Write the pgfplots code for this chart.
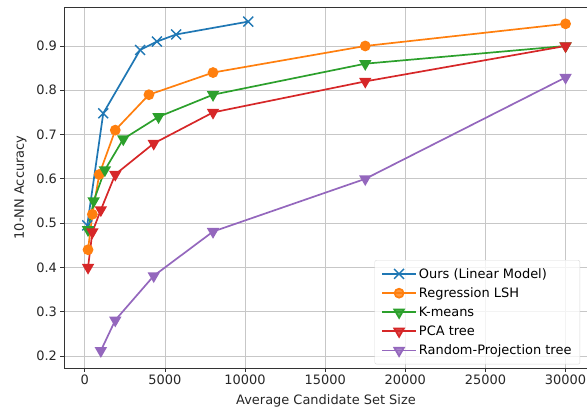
\documentclass[border=0pt]{standalone}
\usepackage{pgfplots}
\pgfplotsset{compat=1.18}
\usepackage{fontspec}
\setmainfont{DejaVu Sans}
\definecolor{tabblue}{HTML}{1F77B4}
\definecolor{taborange}{HTML}{FF7F0E}
\definecolor{tabgreen}{HTML}{2CA02C}
\definecolor{tabred}{HTML}{D62728}
\definecolor{tabpurple}{HTML}{9467BD}
\begin{document}
\begin{tikzpicture}
\begin{axis}[
  name=ax,
  scale only axis, width=524bp, height=361bp,
  xmin=-1300, xmax=31400, ymin=0.173, ymax=0.988,
  xtick={0,5000,10000,15000,20000,25000,30000},
  ytick={0.2,0.3,0.4,0.5,0.6,0.7,0.8,0.9},
  scaled x ticks=false,
  /pgf/number format/assume math mode=true,
  xticklabel style={/pgf/number format/1000 sep={}},
  yticklabel style={/pgf/number format/fixed, /pgf/number format/precision=1, /pgf/number format/fixed zerofill},
  ticklabel style={font=\fontsize{13}{15}\selectfont, text=black!85},
  label style={font=\fontsize{13}{15}\selectfont, text=black!85},
  xlabel={Average Candidate Set Size},
  ylabel={10-NN Accuracy},
  xlabel style={yshift=-3bp},
  ylabel style={yshift=3bp},
  tick align=outside, xtick pos=lower, ytick pos=left,
  major tick length=3.5bp,
  tick style={black!80, line width=0.8bp},
  grid=major, grid style={color=black!22, line width=0.9bp},
  axis line style={black!80, line width=0.8bp},
  every axis plot/.append style={line width=1.7bp},
  legend style={at={(0.985,0.01)}, anchor=south east, draw=black!15, rounded corners=2bp,
    fill=white, fill opacity=0.8, text opacity=1, font=\fontsize{13}{15}\selectfont,
    row sep=4bp, inner xsep=6.5bp, inner ysep=6bp},
  legend cell align=left,
  legend image code/.code={\draw[mark repeat=2,mark phase=2] plot coordinates {(0bp,0bp) (17bp,0bp) (34bp,0bp)};},
]
\addplot[color=tabblue, mark=x, mark size=7bp, mark options={line width=1.4bp}] coordinates {
 (150,0.495) (1150,0.748) (3450,0.891) (4500,0.910) (5700,0.926) (10200,0.955)};
\addlegendentry{Ours (Linear Model)}
\addplot[color=taborange, mark=*, mark size=4.5bp] coordinates {
 (200,0.44) (470,0.52) (900,0.61) (1900,0.71) (4000,0.79) (8000,0.84) (17500,0.90) (30000,0.95)};
\addlegendentry{Regression LSH}
\addplot[color=tabgreen, mark=triangle*, mark size=5.5bp, mark options={rotate=180}] coordinates {
 (200,0.485) (550,0.55) (1250,0.62) (2400,0.69) (4600,0.74) (8000,0.79) (17500,0.86) (30000,0.90)};
\addlegendentry{K-means}
\addplot[color=tabred, mark=triangle*, mark size=5.5bp, mark options={rotate=180}] coordinates {
 (200,0.40) (470,0.48) (1000,0.53) (1900,0.61) (4300,0.68) (8000,0.75) (17500,0.82) (30000,0.90)};
\addlegendentry{PCA tree}
\addplot[color=tabpurple, mark=triangle*, mark size=5.5bp, mark options={rotate=180}] coordinates {
 (1000,0.212) (1900,0.281) (4300,0.381) (8000,0.481) (17500,0.60) (30000,0.829)};
\addlegendentry{Random-Projection tree}
\end{axis}
\pgfresetboundingbox
\path (ax.south west) ++(-64bp,-43bp) rectangle ++(587bp,411bp);
\end{tikzpicture}
\end{document}
